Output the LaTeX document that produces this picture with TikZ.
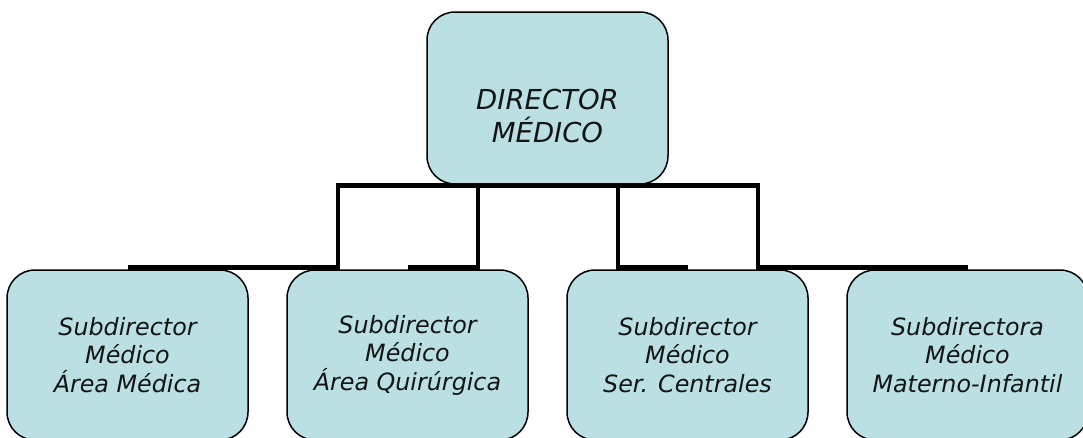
\documentclass[tikz,border=0pt]{standalone}
\usepackage{fontspec}
\setmainfont{DejaVu Sans}
\definecolor{boxfill}{HTML}{BBE0E3}
\definecolor{txt}{HTML}{141414}
\begin{document}
\begin{tikzpicture}[x=1pt,y=-1pt,
  orgbox/.style={draw=black, line width=1.5pt, fill=boxfill, rounded corners=28pt,
    align=center, text=txt, inner sep=0pt},
  topbox/.style={orgbox, minimum width=241pt, minimum height=172pt,
    font=\fontsize{27.5}{32.5}\selectfont\itshape},
  subbox/.style={orgbox, minimum width=241pt, minimum height=170pt,
    font=\fontsize{23.8}{28.5}\selectfont\itshape},
  conn/.style={draw=black, line width=4.8pt, line join=miter}]
\useasboundingbox (0,0) rectangle (1083,437);
\clip (0,0) rectangle (1083,437);
\node[topbox] (p) at (547.5,98) {\mbox{}\\[24pt]DIRECTOR\\MÉDICO};
\node[subbox] (c1) at (127.5,355) {Subdirector\\Médico\\Área Médica};
\node[subbox] (c2) at (407.5,355) {Subdirector\\Médico\\Área Quirúrgica};
\node[subbox] (c3) at (687.5,355) {Subdirector\\Médico\\Ser. Centrales};
\node[subbox] (c4) at (967.5,355) {Subdirectora\\Médico\\Materno-Infantil};
\draw[conn] ([yshift=2pt]c1.north) -| ([xshift=-209.5pt,yshift=-0.5pt]p.south) -- ([yshift=-0.5pt]p.south);
\draw[conn] ([yshift=2pt]c2.north) -| ([xshift=-69.5pt,yshift=-0.5pt]p.south) -- ([yshift=-0.5pt]p.south);
\draw[conn] ([yshift=2pt]c3.north) -| ([xshift=70.5pt,yshift=-0.5pt]p.south) -- ([yshift=-0.5pt]p.south);
\draw[conn] ([yshift=2pt]c4.north) -| ([xshift=210.5pt,yshift=-0.5pt]p.south) -- ([yshift=-0.5pt]p.south);
\end{tikzpicture}
\end{document}
